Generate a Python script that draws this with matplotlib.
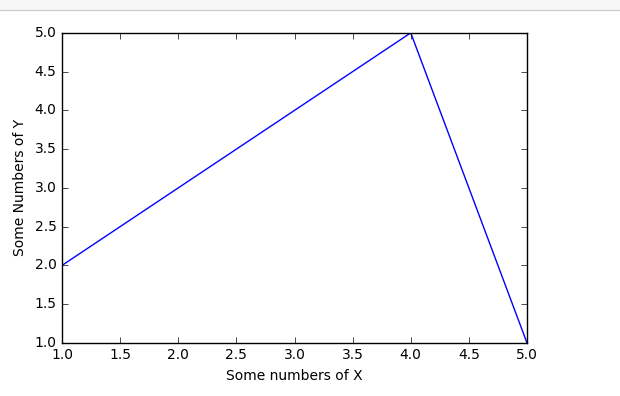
import matplotlib
matplotlib.use("Agg")
import matplotlib.pyplot as plt
from matplotlib.patches import Rectangle

x = [1, 2, 3, 4, 5]
y = [2, 3, 4, 5, 1]

plt.style.use('classic')
plt.rcParams['font.size'] = 10

fig = plt.figure(figsize=(6.2, 3.96), dpi=100, facecolor='white')

# leftover notebook cell strip at the top of the screenshot
fig.patches.append(Rectangle((0, 1 - 10 / 396), 1, 10 / 396, transform=fig.transFigure,
                             facecolor='#f7f7f7', edgecolor='none', zorder=0))
fig.add_artist(plt.Line2D([0, 1], [1 - 10 / 396, 1 - 10 / 396], transform=fig.transFigure,
                          color='#cfcfcf', linewidth=1))

ax = fig.add_axes([0.1, 0.134, 0.75, 0.783])
ax.plot(x, y, color='b', linewidth=1.0)
ax.set_xlabel('Some numbers of X')
ax.set_ylabel('Some Numbers of Y')
ax.tick_params(labelsize=10)

fig.savefig('out.png', dpi=100, facecolor='white')
